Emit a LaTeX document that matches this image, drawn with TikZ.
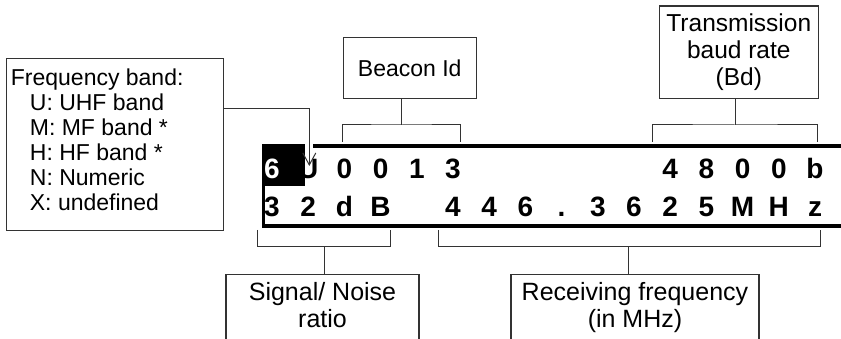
\documentclass[tikz,border=0pt]{standalone}
\usepackage{fontspec}
\setmainfont{Liberation Sans}
\usetikzlibrary{arrows.meta}
\begin{document}
\begin{tikzpicture}[x=1pt,y=-1pt,
  lbox/.style={draw=black!80, line width=1.1pt, inner sep=0pt},
  ltxt/.style={font=\fontsize{23}{26.5}\selectfont, inner sep=0pt, align=center},
  conn/.style={draw=black!80, line width=1pt},
  disp/.style={font=\fontsize{28}{30}\selectfont\bfseries, inner sep=0pt, anchor=base},
  frameline/.style={line width=3.6pt, black}]
\clip (0,0) rectangle (841,339);
% label boxes
\node[lbox, anchor=north west, minimum width=217pt, minimum height=172pt] (freqbox) at (6,58) {};
\node[ltxt, font=\fontsize{23}{25}\selectfont, align=left, anchor=north west] (freq) at (10.7,68.3)
  {Frequency band:\\\hspace*{19pt}U: UHF band\\\hspace*{19pt}M: MF band *\\\hspace*{19pt}H: HF band *\\\hspace*{19pt}N: Numeric\\\hspace*{19pt}X: undefined};
\node[lbox, ltxt, minimum width=132.7pt, minimum height=61pt] (beacon) at (409.7,67.8) {Beacon Id};
\node[lbox, ltxt, font=\fontsize{24.5}{26.6}\selectfont, minimum width=159pt, minimum height=92.3pt] (baud) at (738.8,52.2) {Transmission\\baud rate\\(Bd)};
\node[lbox, anchor=north, minimum width=193pt, minimum height=100pt] (snrbox) at (322.5,274) {};
\node[ltxt, font=\fontsize{25}{26.5}\selectfont, anchor=north] (snr) at (322.5,282.3) {Signal/ Noise\\ratio};
\node[lbox, anchor=north, minimum width=248pt, minimum height=100pt] (rxfbox) at (635,274) {};
\node[ltxt, font=\fontsize{25}{26.5}\selectfont, anchor=north] (rxf) at (635,282.3) {Receiving frequency\\(in MHz)};
% display frame
\fill[black] (261.7,144.3) rectangle (305,186);
\draw[frameline] (313,146) -- (850,146);
\draw[frameline] (263.3,144.3) -- (263.3,226) -- (850,226);
% display characters
\node[disp, text=white] (r1c0) at (272,179) {6};
\foreach \i/\c in {1/U,2/0,3/0,4/1,5/3,11/4,12/8,13/0,14/0,15/b}
  \node[disp] (r1c\i) at ({272+36.2*\i},179) {\c};
\foreach \i/\c in {0/3,1/2,2/d,3/B,5/4,6/4,7/6,8/.,9/3,10/6,11/2,12/5,13/M,14/H,15/z}
  \node[disp] (r2c\i) at ({272+36.2*\i},217) {\c};
% arrow to U
\coordinate (fbend) at (309.3,109);
\coordinate (utip) at (309.3,166);
\draw[conn, -{Straight Barb[length=12pt, width=13pt, line width=1pt]}] (freqbox.east |- fbend) -| (utip);
% brackets
\coordinate (beaconL) at (342.7,141.7);
\coordinate (beaconM) at (401.7,125);
\coordinate (beaconR) at (460,141.7);
\draw[conn] (beaconL) |- (beaconM) -| (beaconR);
\draw[conn] (beaconM) -- (beaconM |- beacon.south);
\coordinate (baudL) at (652.3,141.7);
\coordinate (baudM) at (735,125);
\coordinate (baudR) at (817.7,141.7);
\draw[conn] (baudL) |- (baudM) -| (baudR);
\draw[conn] (baudM) -- (baudM |- baud.south);
\coordinate (snrL) at (257.3,230);
\coordinate (snrM) at (324,246.7);
\coordinate (snrR) at (390,230);
\draw[conn] (snrL) |- (snrM) -| (snrR);
\draw[conn] (snrM) -- (snrM |- snrbox.north);
\coordinate (rxfL) at (438.3,230);
\coordinate (rxfM) at (628.3,246.7);
\coordinate (rxfR) at (820,230);
\draw[conn] (rxfL) |- (rxfM) -| (rxfR);
\draw[conn] (rxfM) -- (rxfM |- rxfbox.north);
\end{tikzpicture}
\end{document}
